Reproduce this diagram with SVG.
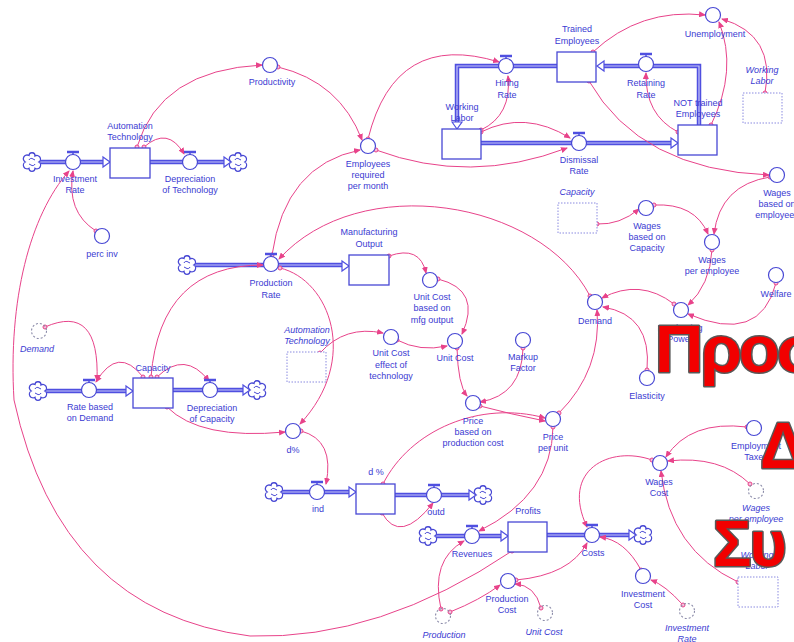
<svg xmlns="http://www.w3.org/2000/svg" width="794" height="642" viewBox="0 0 794 642">
<defs>
<style>
.t{font-family:"Liberation Sans",Arial,sans-serif;font-size:9px;fill:#3b3bd2;text-anchor:middle}
.i{font-style:italic}
.aux{fill:#fff;stroke:#4848d4;stroke-width:1.2}
.sh{fill:none;stroke:#8a8aa8;stroke-width:1.1;stroke-dasharray:2 2}
.stk{fill:#fff;stroke:#4848d4;stroke-width:1.3}
.shb{fill:#fff;stroke:#8a8ae0;stroke-width:1;stroke-dasharray:1.5 1.5}
.pipe{fill:none;stroke:#4f4fe0;stroke-width:4.5}
.pin{fill:none;stroke:#c8c8f8;stroke-width:1.2}
.fa{fill:#fff;stroke:#4f4fe0;stroke-width:1.2}
.vb{stroke:#4f4fe0;stroke-width:2.5}
.vs{stroke:#4f4fe0;stroke-width:1.5}
.lk{fill:none;stroke:#e8438a;stroke-width:1;marker-start:url(#tail);marker-end:url(#arr)}
.big{font-family:"Liberation Sans",Arial,sans-serif;font-weight:bold;fill:#f20000;stroke:#585858;stroke-width:3;paint-order:stroke;stroke-linejoin:round}
.cl{fill:#fff;stroke:#4848d4;stroke-width:1.3}
.cli{fill:none;stroke:#4848d4;stroke-width:1}
</style>
<marker id="arr" markerWidth="7" markerHeight="6" refX="6" refY="3" orient="auto" markerUnits="userSpaceOnUse"><path d="M0,0 L7,3 L0,6 Z" fill="#e8438a"/></marker>
<marker id="tail" markerWidth="6" markerHeight="6" refX="3" refY="3" markerUnits="userSpaceOnUse"><circle cx="3" cy="3" r="2" fill="#f9c0dc" stroke="#e8438a" stroke-width="1"/></marker>
<g id="cloud">
<path class="cl" d="M-3,-6.5 A3,3 0 0 1 3,-6 A3,3 0 0 1 6.8,0 A3,3 0 0 1 3,6.3 A3,3 0 0 1 -3,6.3 A3,3 0 0 1 -6.8,0 A3,3 0 0 1 -3,-6.5 Z"/>
<path class="cli" d="M-3,-2 a2.5,2.5 0 0 1 4,-1 M3,2 a2.5,2.5 0 0 1 -4,1 M-1,3 l-2,-1 M1,-3 l2,1"/>
</g>
<g id="valve">
<line class="vb" x1="-6" y1="-10" x2="6" y2="-10"/>
<line class="vs" x1="0" y1="-10" x2="0" y2="-7"/>
<circle class="aux" r="7.5"/>
</g>
</defs>
<rect width="794" height="642" fill="#fff"/>

<g id="pipes">
<path class="pipe" d="M39,162 H104 M150,162 H225 M194,265 H343 M45,391 H127 M173,390 H244 M281,492 H350 M395,495 H470 M435,536 H502 M547,535 H630 M557,66 H457 V123 M699,125 V66 H603 M481,143 H672"/>
<path class="pin" d="M39,162 H104 M150,162 H225 M194,265 H343 M45,391 H127 M173,390 H244 M281,492 H350 M395,495 H470 M435,536 H502 M547,535 H630 M557,66 H457 V123 M699,125 V66 H603 M481,143 H672"/>
<polygon class="fa" points="103,157 110,162 103,167"/>
<polygon class="fa" points="224,157 231,162 224,167"/>
<polygon class="fa" points="342,261 349,266 342,271"/>
<polygon class="fa" points="126,386 133,391 126,396"/>
<polygon class="fa" points="243,385 250,390 243,395"/>
<polygon class="fa" points="349,487 356,492 349,497"/>
<polygon class="fa" points="469,490 476,495 469,500"/>
<polygon class="fa" points="501,531 508,536 501,541"/>
<polygon class="fa" points="629,530 636,535 629,540"/>
<polygon class="fa" points="452,122 457,129 462,122"/>
<polygon class="fa" points="604,61 597,66 604,71"/>
<polygon class="fa" points="671,138 678,143 671,148"/>
<use href="#cloud" x="32" y="162"/>
<use href="#cloud" x="238" y="162"/>
<use href="#cloud" x="187" y="265"/>
<use href="#cloud" x="38" y="391"/>
<use href="#cloud" x="257" y="390"/>
<use href="#cloud" x="274" y="492"/>
<use href="#cloud" x="483" y="495"/>
<use href="#cloud" x="428" y="536"/>
<use href="#cloud" x="643" y="535"/>
</g>

<g id="connectors">
<path class="lk" d="M137,147 Q160,70 262,65"/>
<path class="lk" d="M144,147 Q168,126 184,154"/>
<path class="lk" d="M512,551 Q380,640 250,636 Q60,612 14,400 C8,300 30,215 69,171"/>
<path class="lk" d="M96,231 Q66,212 73,171"/>
<path class="lk" d="M278,67 Q340,82 362,140"/>
<path class="lk" d="M368,139 Q395,30 499,62"/>
<path class="lk" d="M376,150 Q470,185 567,148"/>
<path class="lk" d="M481,132 Q525,110 570,138"/>
<path class="lk" d="M481,130 Q512,115 508,76"/>
<path class="lk" d="M272,255 Q285,165 360,150"/>
<path class="lk" d="M593,52 Q640,8 705,15"/>
<path class="lk" d="M589,81 Q640,170 769,175"/>
<path class="lk" d="M711,125 Q738,70 719,22"/>
<path class="lk" d="M765,93 Q776,35 722,19"/>
<path class="lk" d="M678,132 Q645,115 646,73"/>
<path class="lk" d="M597,224 Q620,225 639,209"/>
<path class="lk" d="M654,205 Q695,203 708,234"/>
<path class="lk" d="M770,177 Q720,185 714,234"/>
<path class="lk" d="M712,250 Q710,285 688,305"/>
<path class="lk" d="M776,283 Q760,345 688,314"/>
<path class="lk" d="M674,304 Q640,278 602,298"/>
<path class="lk" d="M647,370 Q652,315 603,307"/>
<path class="lk" d="M559,413 Q602,370 597,310"/>
<path class="lk" d="M590,296 C540,200 360,170 279,259"/>
<path class="lk" d="M151,377 Q160,265 263,265"/>
<path class="lk" d="M280,268 C330,280 360,360 300,424"/>
<path class="lk" d="M167,407 Q200,440 285,432"/>
<path class="lk" d="M45,327 Q100,303 97,381"/>
<path class="lk" d="M143,377 Q118,345 96,382"/>
<path class="lk" d="M157,377 Q185,350 209,381"/>
<path class="lk" d="M301,431 Q335,440 326,484"/>
<path class="lk" d="M382,513 Q400,545 433,503"/>
<path class="lk" d="M383,484 C410,430 480,400 545,418"/>
<path class="lk" d="M457,348 Q458,385 467,396"/>
<path class="lk" d="M523,348 Q522,395 480,402"/>
<path class="lk" d="M480,406 Q510,414 545,421"/>
<path class="lk" d="M438,279 Q482,290 462,334"/>
<path class="lk" d="M389,256 Q420,245 426,273"/>
<path class="lk" d="M397,340 Q420,352 447,346"/>
<path class="lk" d="M320,353 Q345,325 383,333"/>
<path class="lk" d="M553,427 Q552,495 479,531"/>
<path class="lk" d="M441,609 Q430,560 464,541"/>
<path class="lk" d="M450,612 Q480,600 500,585"/>
<path class="lk" d="M541,608 Q535,585 515,584"/>
<path class="lk" d="M516,580 Q570,575 587,543"/>
<path class="lk" d="M652,460 C610,445 560,470 587,527"/>
<path class="lk" d="M641,570 Q625,540 600,537"/>
<path class="lk" d="M683,605 Q665,585 651,580"/>
<path class="lk" d="M747,427 Q690,420 666,457"/>
<path class="lk" d="M750,484 Q720,455 668,461"/>
<path class="lk" d="M738,582 Q670,550 661,471"/>
</g>

<g id="automation-technology"><rect class="stk" x="110" y="148" width="40" height="30"/><text class="t" x="130" y="129">Automation</text><text class="t" x="130" y="140">Technology</text></g>
<g id="investment-rate"><use href="#valve" x="73" y="162"/><text class="t" x="75" y="182">Investment</text><text class="t" x="75" y="193">Rate</text></g>
<g id="depreciation-of-technology"><use href="#valve" x="190" y="162"/><text class="t" x="190" y="182">Depreciation</text><text class="t" x="190" y="193">of Technology</text></g>
<g id="perc-inv"><circle class="aux" cx="102" cy="236" r="7.5"/><text class="t" x="102" y="257">perc inv</text></g>
<g id="productivity"><circle class="aux" cx="270" cy="65" r="7.5"/><text class="t" x="272" y="85">Productivity</text></g>
<g id="employees-required"><circle class="aux" cx="368" cy="146" r="7.5"/><text class="t" x="368" y="167">Employees</text><text class="t" x="368" y="178">required</text><text class="t" x="368" y="189">per month</text></g>
<g id="working-labor"><rect class="stk" x="442" y="129" width="39" height="30"/><text class="t" x="462" y="110">Working</text><text class="t" x="462" y="121">Labor</text></g>
<g id="hiring-rate"><use href="#valve" x="506" y="66"/><text class="t" x="507" y="86">Hiring</text><text class="t" x="507" y="98">Rate</text></g>
<g id="trained-employees"><rect class="stk" x="557" y="52" width="39" height="30"/><text class="t" x="577" y="32">Trained</text><text class="t" x="577" y="44">Employees</text></g>
<g id="retaining-rate"><use href="#valve" x="646" y="64"/><text class="t" x="646" y="86">Retaining</text><text class="t" x="646" y="98">Rate</text></g>
<g id="not-trained-employees"><rect class="stk" x="678" y="125" width="39" height="30"/><text class="t" x="698" y="106">NOT trained</text><text class="t" x="698" y="117">Employees</text></g>
<g id="dismissal-rate"><use href="#valve" x="579" y="143"/><text class="t" x="579" y="163">Dismissal</text><text class="t" x="579" y="174">Rate</text></g>
<g id="unemployment"><circle class="aux" cx="713" cy="15" r="7.5"/><text class="t" x="715" y="37">Unemployment</text></g>
<g id="working-labor-shadow-1"><rect class="shb" x="743" y="93" width="39" height="30"/><text class="t i" x="762" y="73">Working</text><text class="t i" x="762" y="84">Labor</text></g>
<g id="wages-based-on-employees"><circle class="aux" cx="777" cy="175" r="7.5"/><text class="t" x="777" y="196">Wages</text><text class="t" x="777" y="207">based on</text><text class="t" x="777" y="218">employees</text></g>
<g id="capacity-shadow"><rect class="shb" x="558" y="203" width="39" height="30"/><text class="t i" x="577" y="195">Capacity</text></g>
<g id="wages-based-on-capacity"><circle class="aux" cx="646" cy="208" r="7.5"/><text class="t" x="647" y="229">Wages</text><text class="t" x="647" y="240">based on</text><text class="t" x="647" y="251">Capacity</text></g>
<g id="wages-per-employee"><circle class="aux" cx="712" cy="242" r="7.5"/><text class="t" x="712" y="263">Wages</text><text class="t" x="712" y="274">per employee</text></g>
<g id="welfare"><circle class="aux" cx="776" cy="275" r="7.5"/><text class="t" x="776" y="297">Welfare</text></g>
<g id="purchasing-power"><circle class="aux" cx="681" cy="310" r="7.5"/><text class="t" x="680" y="331">Purchasing</text><text class="t" x="680" y="342">Power</text></g>
<g id="demand"><circle class="aux" cx="595" cy="302" r="7.5"/><text class="t" x="595" y="324">Demand</text></g>
<g id="elasticity"><circle class="aux" cx="647" cy="378" r="7.5"/><text class="t" x="647" y="399">Elasticity</text></g>
<g id="production-rate"><use href="#valve" x="271" y="264"/><text class="t" x="271" y="286">Production</text><text class="t" x="271" y="298">Rate</text></g>
<g id="manufacturing-output"><rect class="stk" x="349" y="255" width="40" height="30"/><text class="t" x="369" y="235">Manufacturing</text><text class="t" x="369" y="247">Output</text></g>
<g id="unit-cost-mfg"><circle class="aux" cx="430" cy="280" r="7.5"/><text class="t" x="432" y="300">Unit Cost</text><text class="t" x="432" y="311">based on</text><text class="t" x="432" y="323">mfg output</text></g>
<g id="automation-technology-shadow"><rect class="shb" x="287" y="352" width="39" height="30"/><text class="t i" x="307" y="333">Automation</text><text class="t i" x="307" y="344">Technology</text></g>
<g id="unit-cost-effect"><circle class="aux" cx="391" cy="337" r="7.5"/><text class="t" x="391" y="356">Unit Cost</text><text class="t" x="391" y="368">effect of</text><text class="t" x="391" y="379">technology</text></g>
<g id="unit-cost"><circle class="aux" cx="455" cy="341" r="7.5"/><text class="t" x="455" y="361">Unit Cost</text></g>
<g id="markup-factor"><circle class="aux" cx="523" cy="340" r="7.5"/><text class="t" x="523" y="360">Markup</text><text class="t" x="523" y="371">Factor</text></g>
<g id="price-based"><circle class="aux" cx="473" cy="403" r="7.5"/><text class="t" x="473" y="424">Price</text><text class="t" x="473" y="435">based on</text><text class="t" x="473" y="446">production cost</text></g>
<g id="price-per-unit"><circle class="aux" cx="553" cy="419" r="7.5"/><text class="t" x="553" y="440">Price</text><text class="t" x="553" y="451">per unit</text></g>
<g id="demand-shadow"><circle class="sh" cx="39" cy="331" r="7.5"/><text class="t i" x="37" y="352">Demand</text></g>
<g id="capacity"><rect class="stk" x="133" y="378" width="40" height="30"/><text class="t" x="153" y="371">Capacity</text></g>
<g id="rate-based-on-demand"><use href="#valve" x="89" y="390"/><text class="t" x="90" y="410">Rate based</text><text class="t" x="90" y="421">on Demand</text></g>
<g id="depreciation-of-capacity"><use href="#valve" x="210" y="390"/><text class="t" x="212" y="411">Depreciation</text><text class="t" x="212" y="422">of Capacity</text></g>
<g id="d-pct-aux"><circle class="aux" cx="293" cy="431" r="7.5"/><text class="t" x="293" y="453">d%</text></g>
<g id="d-pct-stock"><rect class="stk" x="356" y="484" width="39" height="30"/><text class="t" x="376" y="475">d %</text></g>
<g id="ind"><use href="#valve" x="317" y="492"/><text class="t" x="318" y="512">ind</text></g>
<g id="outd"><use href="#valve" x="434" y="495"/><text class="t" x="436" y="515">outd</text></g>
<g id="profits"><rect class="stk" x="508" y="522" width="39" height="30"/><text class="t" x="528" y="514">Profits</text></g>
<g id="revenues"><use href="#valve" x="472" y="536"/><text class="t" x="472" y="557">Revenues</text></g>
<g id="costs"><use href="#valve" x="592" y="535"/><text class="t" x="593" y="556">Costs</text></g>
<g id="production-cost"><circle class="aux" cx="508" cy="581" r="7.5"/><text class="t" x="507" y="602">Production</text><text class="t" x="507" y="613">Cost</text></g>
<g id="production-shadow"><circle class="sh" cx="443" cy="616" r="7.5"/><text class="t i" x="444" y="638">Production</text></g>
<g id="unit-cost-shadow"><circle class="sh" cx="545" cy="613" r="7.5"/><text class="t i" x="544" y="635">Unit Cost</text></g>
<g id="investment-cost"><circle class="aux" cx="643" cy="576" r="7.5"/><text class="t" x="643" y="597">Investment</text><text class="t" x="643" y="608">Cost</text></g>
<g id="investment-rate-shadow"><circle class="sh" cx="687" cy="611" r="7.5"/><text class="t i" x="687" y="631">Investment</text><text class="t i" x="687" y="642">Rate</text></g>
<g id="wages-cost"><circle class="aux" cx="660" cy="463" r="7.5"/><text class="t" x="659" y="485">Wages</text><text class="t" x="659" y="496">Cost</text></g>
<g id="employment-taxes"><circle class="aux" cx="754" cy="428" r="7.5"/><text class="t" x="756" y="449">Employment</text><text class="t" x="756" y="460">Taxes</text></g>
<g id="wages-per-employee-shadow"><circle class="sh" cx="756" cy="491" r="7.5"/><text class="t i" x="756" y="511">Wages</text><text class="t i" x="756" y="522">per employee</text></g>
<g id="working-labor-shadow-2"><rect class="shb" x="738" y="577" width="40" height="30"/><text class="t i" x="757" y="558">Working</text><text class="t i" x="757" y="569">Labor</text></g>

<g id="title">
<text class="big" x="655" y="372" font-size="67" letter-spacing="-3">Προσ</text>
<text class="big" x="760" y="468" font-size="64">Δ</text>
<text class="big" x="713" y="566" font-size="64" letter-spacing="-2">Συ</text>
</g>
</svg>
